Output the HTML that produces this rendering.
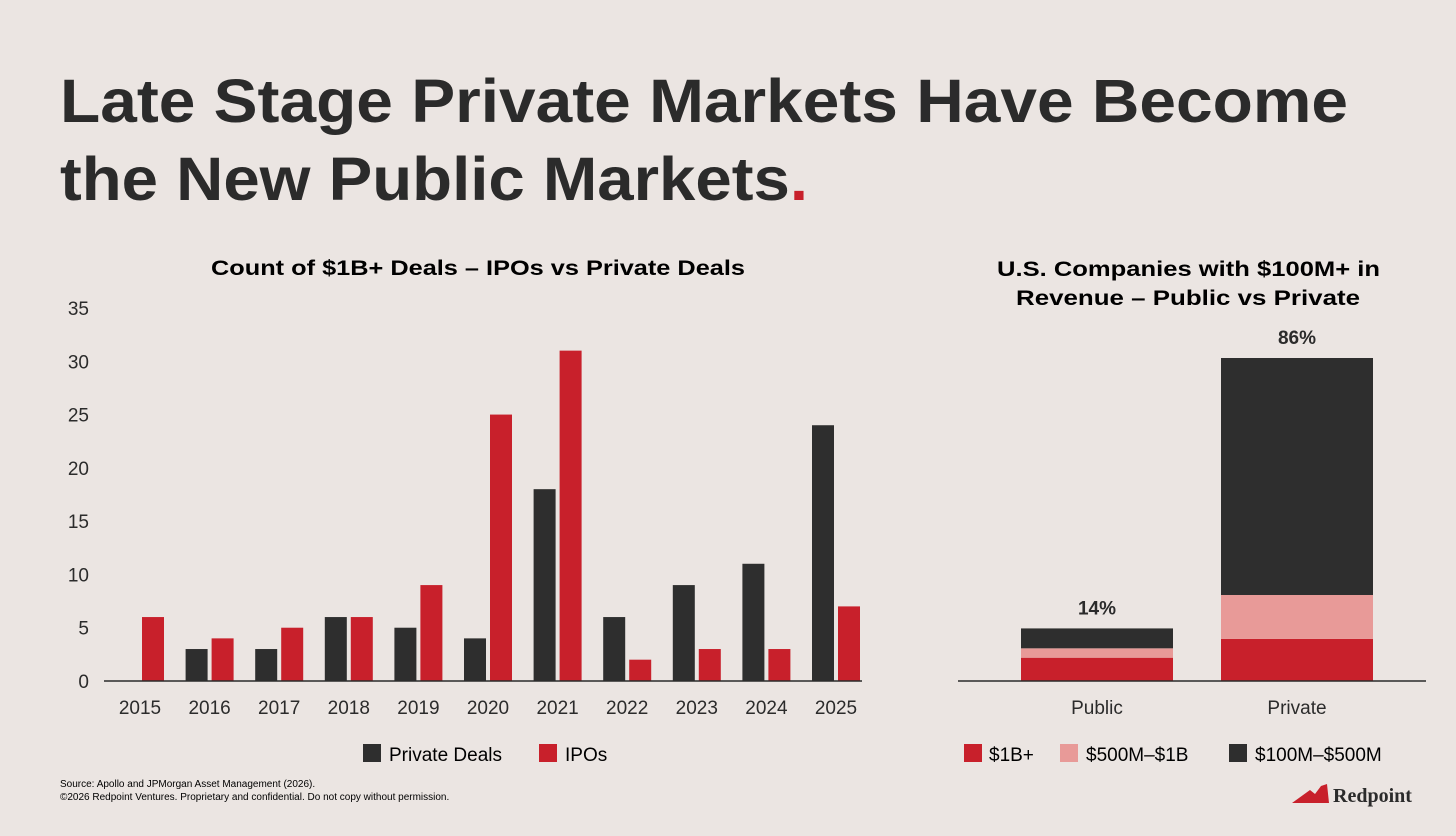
<!DOCTYPE html>
<html><head><meta charset="utf-8"><style>
body{margin:0;width:1456px;height:831px;background:#ebe5e2;overflow:hidden;font-family:"Liberation Sans",sans-serif;color:#2b2b2b}
</style></head><body>
<svg width="1456" height="831" id="svg" xmlns="http://www.w3.org/2000/svg">
<rect width="1456" height="831" fill="#ebe5e2"/>
<text x="60" y="122" font-size="61" font-weight="bold" fill="#2b2b2b" textLength="1288" lengthAdjust="spacingAndGlyphs">Late Stage Private Markets Have Become</text>
<text x="60" y="200" font-size="61" font-weight="bold" fill="#2b2b2b" textLength="748" lengthAdjust="spacingAndGlyphs">the New Public Markets<tspan fill="#c8202b">.</tspan></text>
<text x="211" y="275" font-size="21" font-weight="bold" textLength="534" lengthAdjust="spacingAndGlyphs">Count of $1B+ Deals – IPOs vs Private Deals</text>
<text x="997" y="276" font-size="21" font-weight="bold" textLength="383" lengthAdjust="spacingAndGlyphs">U.S. Companies with $100M+ in</text>
<text x="1016" y="305" font-size="21" font-weight="bold" textLength="344" lengthAdjust="spacingAndGlyphs">Revenue  – Public vs Private</text>
<g id="left"></g><g id="right"></g>
<rect x="363" y="744" width="18" height="18" fill="#2e2e2e"/>
<text x="389" y="761" font-size="19">Private Deals</text>
<rect x="539" y="744" width="18" height="18" fill="#c8202b"/>
<text x="565" y="761" font-size="19">IPOs</text>
<rect x="964" y="744" width="18" height="18" fill="#c8202b"/>
<text x="989" y="761" font-size="19">$1B+</text>
<rect x="1060" y="744" width="18" height="18" fill="#e89a98"/>
<text x="1086" y="761" font-size="19">$500M–$1B</text>
<rect x="1229" y="744" width="18" height="18" fill="#2e2e2e"/>
<text x="1255" y="761" font-size="19">$100M–$500M</text>
<text x="60" y="787" font-size="10">Source: Apollo and JPMorgan Asset Management (2026).</text>
<text x="60" y="800" font-size="10">©2026 Redpoint Ventures. Proprietary and confidential. Do not copy without permission.</text>
<g>
<polygon points="1292,803 1310,790 1315,794 1321,786 1327,784 1329,803" fill="#c8202b"/>
<text x="1333" y="802" font-size="20" font-weight="bold" font-family="Liberation Serif,serif" fill="#2b2b2b">Redpoint</text>
</g>
</svg>
<script>
const years=["2015","2016","2017","2018","2019","2020","2021","2022","2023","2024","2025"];
const privateDeals=[0,3,3,6,5,4,18,6,9,11,24];
const ipos=[6,4,5,6,9,25,31,2,3,3,7];
const yTicks=[0,5,10,15,20,25,30,35];
const cats=["Public","Private"];
const seg1B=[6.2,11.2];
const seg500=[2.5,11.7];
const seg100=[5.3,63.1];
const pctLabels=["14%","86%"];
const NS="http://www.w3.org/2000/svg";
function mk(p,t,a,txt){const e=document.createElementNS(NS,t);for(const k in a)e.setAttribute(k,a[k]);if(txt!=null)e.textContent=txt;p.appendChild(e);return e;}
const L=document.getElementById('left');
const y0=681,yScale=v=>y0-v*(373/35);
const xG=i=>116+i*69.6;
yTicks.forEach(t=>{const e=mk(L,'text',{x:89,y:yScale(t)+7,'font-size':19,'text-anchor':'end',fill:'#2b2b2b'},t);

});
years.forEach((yr,i)=>{
 const x=xG(i);
 if(privateDeals[i]>0){const b=mk(L,'rect',{x:x,y:yScale(privateDeals[i]),width:22,height:y0-yScale(privateDeals[i]),fill:'#2e2e2e'});
 
 }
 const r=mk(L,'rect',{x:x+26,y:yScale(ipos[i]),width:22,height:y0-yScale(ipos[i]),fill:'#c8202b'});
 
 
 const t=mk(L,'text',{x:x+24,y:714,'font-size':19,'text-anchor':'middle',fill:'#2b2b2b'},yr);
 
 
});
const ax=mk(L,'line',{x1:104,x2:862,y1:y0,y2:y0,stroke:'#2b2b2b','stroke-width':1.5});


const R=document.getElementById('right');
const pS=323/86;
const xR=[1021,1221];
cats.forEach((c,i)=>{
 let y=y0;
 [[seg1B,'#c8202b','1b'],[seg500,'#e89a98','500m'],[seg100,'#2e2e2e','100m']].forEach(([arr,col,n])=>{
  const h=arr[i]*pS;y-=h;
  const s=mk(R,'rect',{x:xR[i],y:y,width:152,height:h,fill:col});
  
  
 });
 const p=mk(R,'text',{x:xR[i]+76,y:y-14,'font-size':19,'font-weight':'bold','text-anchor':'middle',fill:'#2b2b2b'},pctLabels[i]);
 
 
 const t=mk(R,'text',{x:xR[i]+76,y:714,'font-size':19,'text-anchor':'middle',fill:'#2b2b2b'},c);
 
 
});
const ax2=mk(R,'line',{x1:958,x2:1426,y1:y0,y2:y0,stroke:'#2b2b2b','stroke-width':1.5});


</script>
</body></html>
